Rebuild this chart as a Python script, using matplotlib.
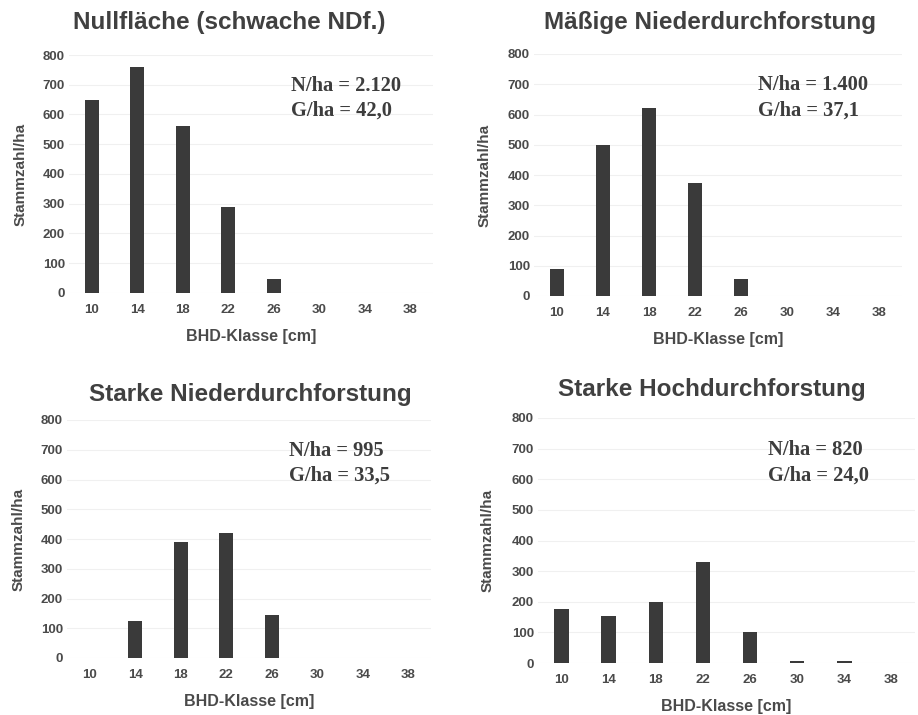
import matplotlib
matplotlib.use("Agg")
import matplotlib.pyplot as plt
import numpy as np

# BHD-Klassen (cm)
klassen = ["10", "14", "18", "22", "26", "30", "34", "38"]

# Stammzahl je ha pro Klasse
nullflaeche = [650, 760, 560, 290, 47, 0, 0, 0]
maessige_ndf = [90, 500, 620, 375, 55, 0, 0, 0]
starke_ndf = [0, 125, 390, 420, 145, 0, 0, 0]
starke_hdf = [175, 155, 200, 330, 100, 8, 5, 0]

titel = ["Nullfläche (schwache NDf.)", "Mäßige Niederdurchforstung",
         "Starke Niederdurchforstung", "Starke Hochdurchforstung"]
n_ha = ["2.120", "1.400", "995", "820"]
g_ha = ["42,0", "37,1", "33,5", "24,0"]

W, H = 918, 715
fig = plt.figure(figsize=(W / 100, H / 100), dpi=100)
fig.patch.set_facecolor("white")

# Achsenpositionen in Pixeln (links, rechts, oben, unten)
boxen = [(69, 433, 55, 293), (534, 902, 54, 296),
         (67, 431, 420, 658), (538, 915, 418, 663)]
titel_pos = [(229, 22), (710, 22), (250, 395), (712, 390)]

daten = [nullflaeche, maessige_ndf, starke_ndf, starke_hdf]
textfarbe = "#3d3d3d"
grau = "#4a4a4a"
balken = "#3a3a3a"

for i in range(4):
    l, r, t, b = boxen[i]
    ax = fig.add_axes([l / W, 1 - b / H, (r - l) / W, (b - t) / H])
    x = np.arange(len(klassen))
    ax.bar(x, daten[i], width=0.31, color=balken, zorder=3)
    ax.set_xlim(-0.5, len(klassen) - 0.5)
    ax.set_ylim(0, 800)
    ax.set_yticks(range(0, 801, 100))
    ax.set_xticks(x)
    ax.set_xticklabels(klassen)
    for s in ax.spines.values():
        s.set_visible(False)
    ax.grid(axis="y", color="#f0f0f0", linewidth=0.8, zorder=0)
    ax.tick_params(length=0, labelsize=9.5, labelcolor=grau)
    ax.tick_params(axis="y", pad=3)
    ax.tick_params(axis="x", pad=8)
    for lab in ax.get_xticklabels() + ax.get_yticklabels():
        lab.set_fontweight("bold")
        lab.set_fontfamily("Liberation Sans")
    ax.set_xlabel("BHD-Klasse [cm]", fontsize=11.5, fontweight="bold",
                  color=grau, family="Liberation Sans", labelpad=9)
    ax.set_ylabel("Stammzahl/ha", fontsize=11, fontweight="bold",
                  color=grau, family="Liberation Sans")
    ax.yaxis.set_label_coords(-0.115, 0.5)
    ax.text(0.61, 0.87, "N/ha = " + n_ha[i], transform=ax.transAxes,
            fontsize=14.8, fontweight="bold", family="Liberation Serif",
            color=textfarbe, va="center")
    ax.text(0.61, 0.765, "G/ha = " + g_ha[i], transform=ax.transAxes,
            fontsize=14.8, fontweight="bold", family="Liberation Serif",
            color=textfarbe, va="center")
    tx, ty = titel_pos[i]
    fig.text(tx / W, 1 - ty / H, titel[i], ha="center", va="center",
             fontsize=17.5, fontweight="bold", family="Liberation Sans",
             color="#404040")

fig.savefig("out.png", dpi=100, facecolor="white")
